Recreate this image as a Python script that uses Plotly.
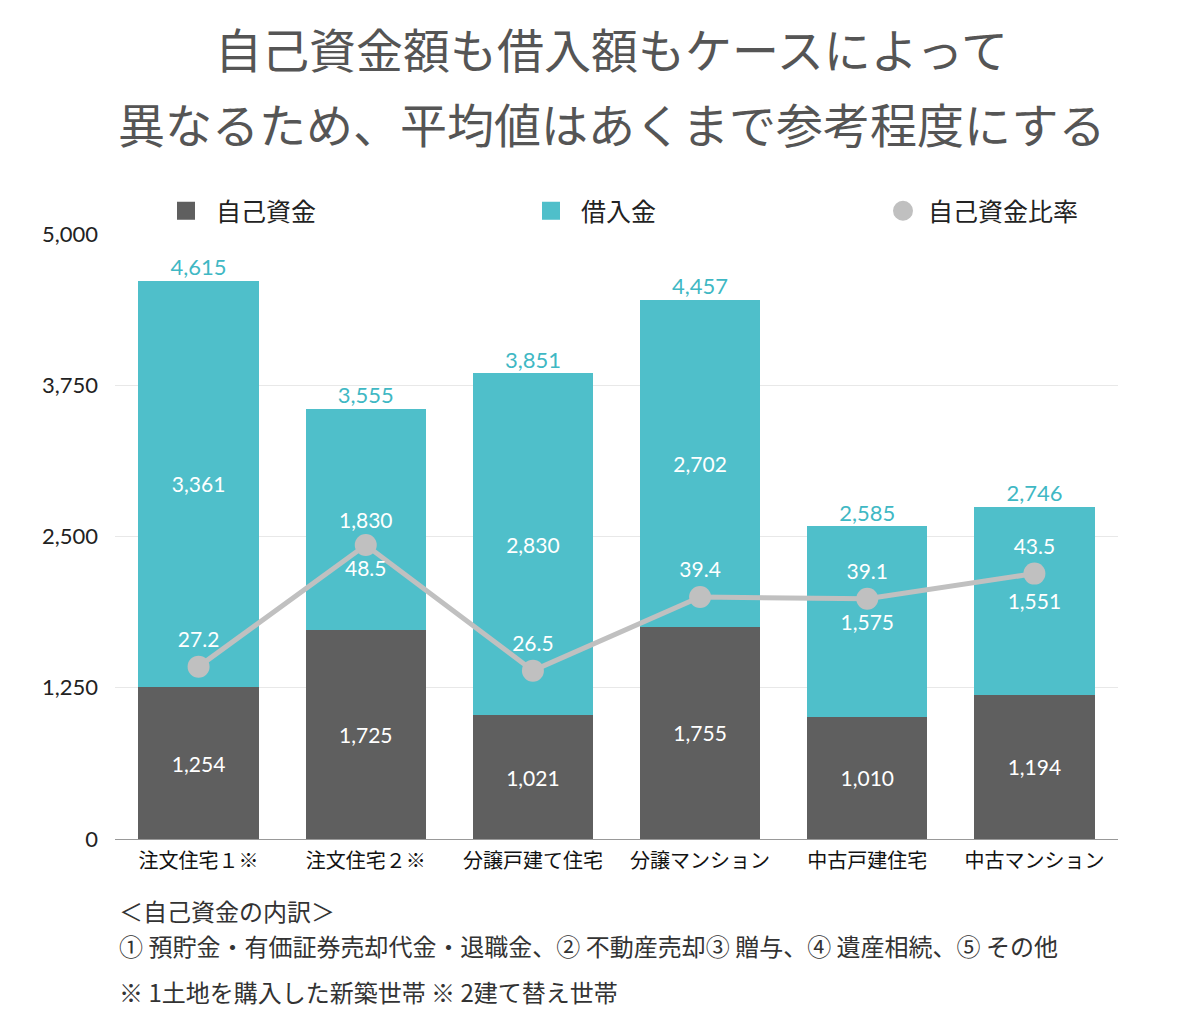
import plotly.graph_objects as go

categories = ["注文住宅１※", "注文住宅２※", "分譲戸建て住宅", "分譲マンション", "中古戸建住宅", "中古マンション"]
own_funds = [1254, 1725, 1021, 1755, 1010, 1194]
borrowed = [3361, 1830, 2830, 2702, 1575, 1551]
totals = [4615, 3555, 3851, 4457, 2585, 2746]
ratio = [27.2, 48.5, 26.5, 39.4, 39.1, 43.5]
ratio_pos = ["top center", "bottom center", "top center", "top center", "top center", "top center"]
y_ticks = [0, 1250, 2500, 3750, 5000]

DARK = "#5f5f5f"
TEAL = "#4fbfca"
GRAY = "#c0c0c0"
FONT = "Lato, 'Noto Sans CJK JP', sans-serif"
JFONT = "'Noto Sans CJK JP', sans-serif"

# screen geometry of the plot area (page has an 8px body margin)
PX_L, PX_R, PX_T, PX_B = 115, 1118, 234, 839
OFF = 8


def px(xs):
    return (xs - PX_L) / (PX_R - PX_L)


def py(ys):
    return (PX_B - ys) / (PX_B - PX_T)


fig = go.Figure()
fig.add_trace(go.Bar(
    x=categories, y=own_funds, name="自己資金", marker=dict(color=DARK, line=dict(width=0)),
    text=[f"{v:,}" for v in own_funds], textposition="inside", insidetextanchor="middle",
    textfont=dict(color="white", size=21, family=FONT), showlegend=False, width=0.72,
))
fig.add_trace(go.Bar(
    x=categories, y=borrowed, name="借入金", marker=dict(color=TEAL, line=dict(width=0)),
    text=[f"{v:,}" for v in borrowed], textposition="inside", insidetextanchor="middle",
    textfont=dict(color="white", size=21, family=FONT), showlegend=False, width=0.72,
))
fig.add_trace(go.Scatter(
    x=categories, y=totals, mode="text", text=[f"{v:,}" for v in totals],
    textposition="top center", textfont=dict(color="#3fb8c4", size=22, family=FONT),
    showlegend=False, hoverinfo="skip",
))
fig.add_trace(go.Scatter(
    x=categories, y=ratio, yaxis="y2", mode="lines+markers+text", name="自己資金比率",
    line=dict(color=GRAY, width=5), marker=dict(color=GRAY, size=22),
    text=[f"{v:.1f}" for v in ratio], textposition=ratio_pos,
    textfont=dict(color="white", size=21, family=FONT), showlegend=False,
))
# legend entries, one legend each so they can be spread across the top
fig.add_trace(go.Scatter(x=[None], y=[None], mode="markers", name="自己資金", legend="legend",
                         marker=dict(symbol="square", color=DARK, size=16, line=dict(color=DARK, width=2))))
fig.add_trace(go.Scatter(x=[None], y=[None], mode="markers", name="借入金", legend="legend2",
                         marker=dict(symbol="square", color=TEAL, size=16, line=dict(color=TEAL, width=2))))
fig.add_trace(go.Scatter(x=[None], y=[None], mode="markers", name="自己資金比率", legend="legend3",
                         marker=dict(symbol="circle", color=GRAY, size=16, line=dict(color=GRAY, width=4))))

title_lines = ["自己資金額も借入額もケースによって", "異なるため、平均値はあくまで参考程度にする"]
ann = []
for t, yp in zip(title_lines, [47, 122]):
    ann.append(dict(text=t, xref="paper", yref="paper", x=px(611), y=py(yp),
                    xanchor="center", yanchor="middle", showarrow=False,
                    font=dict(size=47, color="#555555", family=JFONT)))
notes = ["＜自己資金の内訳＞",
         "① 預貯金・有価証券売却代金・退職金、② 不動産売却③ 贈与、④ 遺産相続、⑤ その他",
         "※ 1土地を購入した新築世帯 ※ 2建て替え世帯"]
for t, yp in zip(notes, [910, 945, 991]):
    ann.append(dict(text=t, xref="paper", yref="paper", x=px(117), y=py(yp),
                    xanchor="left", yanchor="middle", showarrow=False,
                    font=dict(size=24, color="#333333", family=JFONT)))

leg_common = dict(orientation="h", yanchor="middle", xanchor="left",
                  font=dict(size=25, color="#222222", family=JFONT), bgcolor="rgba(0,0,0,0)")

fig.update_layout(
    width=1200, height=1030, barmode="stack",
    margin=dict(l=PX_L - OFF, r=1200 - (PX_R - OFF), t=PX_T - OFF, b=1030 - (PX_B - OFF)),
    paper_bgcolor="white", plot_bgcolor="white",
    font=dict(family=JFONT, color="#222222"),
    annotations=ann,
    legend=dict(x=px(156), y=py(211), itemwidth=50, **leg_common),
    legend2=dict(x=px(521), y=py(211), itemwidth=50, **leg_common),
    legend3=dict(x=px(878), y=py(211), itemwidth=40, **leg_common),
    xaxis=dict(showgrid=False, showline=True, linecolor="#999999", linewidth=1,
               tickfont=dict(size=20, color="#111111", family=JFONT), ticks="",
               ticklabelstandoff=4),
    yaxis=dict(range=[0, 5000], tickvals=y_ticks, ticktext=[f"{v:,}" for v in y_ticks],
               showgrid=True, gridcolor="#e8e8e8", zeroline=False,
               tickfont=dict(size=22, color="#222222", family=FONT), ticks="",
               ticklabelstandoff=16),
    yaxis2=dict(overlaying="y", range=[-3, 103], visible=False),
)

fig.write_html("out.html")
